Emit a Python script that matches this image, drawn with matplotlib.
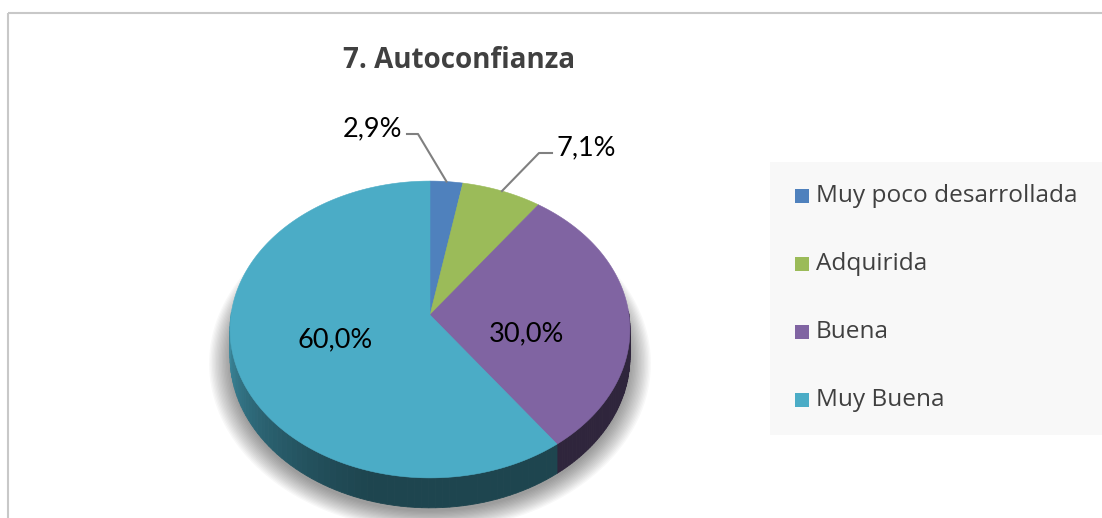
import numpy as np
import matplotlib
matplotlib.use("Agg")
import matplotlib.pyplot as plt
from matplotlib.patches import Polygon, Rectangle
from matplotlib.colors import to_rgb

# data
categories = ["Muy poco desarrollada", "Adquirida", "Buena", "Muy Buena"]
values = [2.9, 7.1, 30.0, 60.0]
pct_labels = ["2,9%", "7,1%", "30,0%", "60,0%"]
colors = ["#4F81BD", "#9BBB59", "#8064A2", "#4BACC6"]
title = "7. Autoconfianza"

# layout (pixels, y down)
W, H = 1102, 518
cx, cy = 430, 315          # apex of the pie
A, B, k = 147, 199, 0.0976  # vertical/horizontal radius, perspective
D = 27                      # depth of the pie side

def proj(u, v, drop=0.0):
    s = 1.0 / (1.0 + k * v)
    return cx + B * u * s, cy - A * v * s + drop * s

plt.rcParams["font.family"] = ["Open Sans", "DejaVu Sans"]
fig = plt.figure(figsize=(W / 100, H / 100), dpi=100)
ax = fig.add_axes([0, 0, 1, 1])
ax.set_xlim(0, W)
ax.set_ylim(H, 0)
ax.axis("off")

# chart border (top and left visible)
ax.plot([8, W], [12.5, 12.5], color="#C8C8C8", lw=1.5, solid_capstyle="butt")
ax.plot([8, 8], [12.5, H], color="#C8C8C8", lw=1.5, solid_capstyle="butt")

# soft shadow
tt = np.linspace(0, 2 * np.pi, 200)
for i in range(16):
    grow = 1.0 + 0.007 * i
    xs, ys = proj(np.cos(tt), np.sin(tt), D)
    xs = 430 + (xs - 430) * grow
    ys = 330 + (ys - 330) * grow + 4
    ax.add_patch(Polygon(np.column_stack([xs, ys]), closed=True,
                         facecolor="#000000", alpha=0.028, edgecolor="none", zorder=1))

total = sum(values)
bounds = np.concatenate([[0], np.cumsum(values)]) / total
ang = np.deg2rad(90 - 360 * bounds)   # clockwise from top

# side of the pie
def side_factor(t):
    d = np.rad2deg(t) % 360
    if d < 180:
        d = 180
    g = np.clip((255 - d) / 75, 0, 1)
    return 0.40 + 0.43 * g ** 1.3

for i, col in enumerate(colors):
    t0, t1 = ang[i], ang[i + 1]
    ts = np.linspace(t0, t1, 120)
    rgb = np.array(to_rgb(col))
    for a, b in zip(ts[:-1], ts[1:]):
        m = 0.5 * (a + b)
        if np.sin(m) > 0.02:
            continue
        x1, y1 = proj(np.cos(a), np.sin(a))
        x2, y2 = proj(np.cos(b), np.sin(b))
        x3, y3 = proj(np.cos(b), np.sin(b), D)
        x4, y4 = proj(np.cos(a), np.sin(a), D)
        f = side_factor(m) if col == "#4BACC6" else 0.37
        c = rgb * f
        ax.add_patch(Polygon([[x1, y1], [x2, y2], [x3, y3], [x4, y4]], closed=True,
                             facecolor=c, edgecolor=c, lw=0.6, zorder=2))

# top surface
for i, col in enumerate(colors):
    ts = np.linspace(ang[i], ang[i + 1], 200)
    xs, ys = proj(np.cos(ts), np.sin(ts))
    pts = np.column_stack([np.r_[cx, xs], np.r_[cy, ys]])
    ax.add_patch(Polygon(pts, closed=True, facecolor=col, edgecolor=col, lw=0.4, zorder=3))

# labels
mid = 0.5 * (ang[:-1] + ang[1:])
lbl_font = dict(fontsize=19.5, color="black", family=["Lato", "DejaVu Sans"], zorder=5)
# small slices: outside with leader lines
ex, ey = proj(np.cos(mid[0]), np.sin(mid[0]))
ax.plot([407, 418, ex], [134, 134, ey], color="#808080", lw=1.5, zorder=4)
ax.text(402, 129, pct_labels[0], ha="right", va="center", **lbl_font)
ex, ey = proj(np.cos(mid[1]), np.sin(mid[1]))
ax.plot([552, 539, ex], [153, 153, ey], color="#808080", lw=1.5, zorder=4)
ax.text(556, 148, pct_labels[1], ha="left", va="center", **lbl_font)
# big slices: inside
ax.text(526, 334, pct_labels[2], ha="center", va="center", **lbl_font)
ax.text(335, 340, pct_labels[3], ha="center", va="center", **lbl_font)

# title
ax.text(459, 60, title, ha="center", va="center", fontsize=20, fontweight="bold",
        color="#404040")

# legend
ax.add_patch(Rectangle((770, 162), W - 770, 273, facecolor="#F8F8F8", edgecolor="none"))
for j, (lab, col) in enumerate(zip(categories, colors)):
    yy = 196 + 68 * j
    ax.add_patch(Rectangle((795, yy - 7), 14, 14, facecolor=col, edgecolor="none"))
    ax.text(816, yy, lab, ha="left", va="center", fontsize=17.6, color="#404040")

fig.savefig("out.png", dpi=100)
